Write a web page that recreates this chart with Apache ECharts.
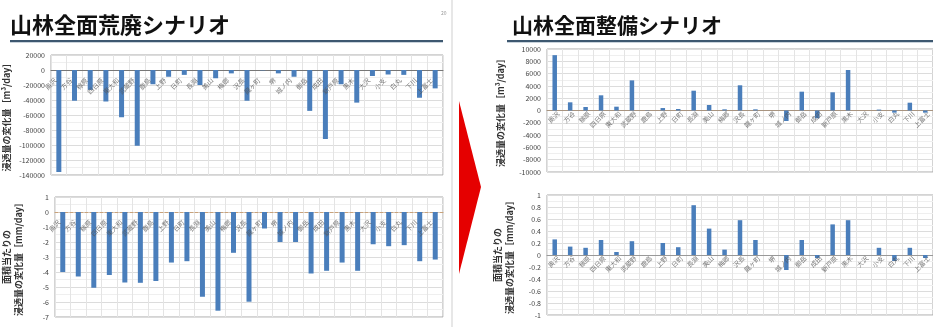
<!DOCTYPE html>
<html>
<head>
<meta charset="utf-8">
<script src="https://cdn.jsdelivr.net/npm/echarts@6/dist/echarts.min.js"></script>
<style>
  html, body { margin: 0; padding: 0; background: #fff; }
  #chart { width: 933px; height: 327px; }
</style>
</head>
<body>
<div id="chart"></div>
<script>
// Municipalities (25 areas)
const areaNames = ["奥沢", "方谷", "稼原", "四日原", "東大和", "武蔵野", "鹿島", "上野", "日町", "長淵",
  "美山", "梅郷", "沢長", "龍ヶ町", "堺", "城ノ内", "御岳", "成田", "新戸原", "黒木",
  "大沢", "小支", "白丸", "下川", "上富士"];

// Scenario: all forests abandoned
const ruinVolume = [-136000, -41000, -26500, -42000, -63000, -101000, -19000, -9000, -6500, -20000,
  -11000, -4500, -41000, -500, -4500, -9000, -54500, -92000, -19000, -43500,
  -8000, -6000, -6500, -37000, -24500];            // m3/day
const ruinDepth = [-4.0, -4.3, -5.05, -4.2, -4.7, -4.72, -4.6, -3.37, -3.28, -5.65,
  -6.58, -2.72, -5.98, -1.1, -2.0, -2.0, -4.1, -3.92, -3.37, -3.92,
  -2.15, -2.28, -2.21, -3.28, -3.17];              // mm/day

// Scenario: all forests maintained
const forestVolume = [9000, 1330, 570, 2470, 620, 4900, 50, 400, 240, 3220,
  890, 190, 4100, 190, 0, -1710, 3060, -1270, 2960, 6590,
  0, 150, -350, 1270, -350];                         // m3/day
const forestDepth = [0.26, 0.14, 0.12, 0.25, 0.05, 0.23, 0, 0.2, 0.13, 0.83,
  0.44, 0.09, 0.58, 0.25, 0, -0.25, 0.25, -0.05, 0.51, 0.58,
  0, 0.12, -0.1, 0.12, -0.05];                       // mm/day

const titleLeft = "山林全面荒廃シナリオ";
const titleRight = "山林全面整備シナリオ";
const volumeName = "浸透量の変化量［m³/day］";
const depthName = "面積当たりの\n浸透量の変化量［mm/day］";

const FONT = '"Noto Sans CJK JP", "Noto Sans", sans-serif';
const BAR = '#4a7ebb';

const chart = echarts.init(document.getElementById('chart'), null, { renderer: 'canvas' });

function grid(left, top, width, height) {
  return { left, top, width, height, show: true, borderColor: '#a9a9a9', borderWidth: 1,
           backgroundColor: '#fff', containLabel: false };
}

function xAxis(idx, zeroColor, dashed) {
  return {
    type: 'category', gridIndex: idx, data: areaNames,
    axisLine: { onZero: true, lineStyle: { color: zeroColor, width: 1, type: dashed ? [3, 2] : 'solid' } },
    axisTick: { show: false },
    axisLabel: { show: false },
    splitLine: { show: true, interval: 0, lineStyle: { color: '#e4e4e4', width: 1 } }
  };
}

function yAxis(idx, min, max, interval, name, gap) {
  return {
    type: 'value', gridIndex: idx, min, max, interval,
    name, nameLocation: 'middle', nameRotate: 90, nameGap: gap,
    nameTextStyle: { fontSize: 9, fontWeight: 'bold', color: '#333', fontFamily: FONT, lineHeight: 12 },
    axisLine: { show: false }, axisTick: { show: false },
    axisLabel: { fontSize: 7, color: '#444', fontFamily: FONT, margin: 6,
                 formatter: v => String(Math.round(v * 10) / 10) },
    splitLine: { show: true, lineStyle: { color: '#dcdcdc', width: 1 } },
    minorTick: { show: false, splitNumber: 2 },
    minorSplitLine: { show: true, lineStyle: { color: '#efefef', width: 1 } }
  };
}

function bars(idx, data, width) {
  return {
    type: 'bar', xAxisIndex: idx, yAxisIndex: idx, data, barWidth: width,
    itemStyle: { color: BAR }, silent: true, animation: false, z: 2
  };
}

// Area names sit on the zero line of each chart, slanted.
function nameTags(idx, offset) {
  return {
    type: 'scatter', xAxisIndex: idx, yAxisIndex: idx, symbolSize: 0, silent: true, z: 3,
    data: areaNames.map(n => ({ name: n, value: [n, 0] })),
    label: {
      show: true, position: 'inside', formatter: p => p.name,
      rotate: 45, align: 'right', verticalAlign: 'middle', offset,
      fontSize: 6.5, color: '#555', fontFamily: FONT
    }
  };
}

chart.setOption({
  animation: false,
  backgroundColor: '#fff',
  grid: [
    grid(48, 55, 395, 120),
    grid(48, 197, 395, 120),
    grid(547, 49, 390, 123),
    grid(547, 195, 390, 120)
  ],
  xAxis: [
    xAxis(0, '#777', false),
    xAxis(1, '#c9a27a', true),
    xAxis(2, '#a89480', false),
    xAxis(3, '#999', false)
  ],
  yAxis: [
    yAxis(0, -140000, 20000, 20000, volumeName, 38),
    yAxis(1, -7, 1, 1, depthName, 30),
    yAxis(2, -10000, 10000, 2000, volumeName, 40),
    yAxis(3, -1, 1, 0.2, depthName, 31)
  ],
  series: [
    bars(0, ruinVolume, 5),
    bars(1, ruinDepth, 5),
    bars(2, forestVolume, 4.5),
    bars(3, forestDepth, 4.5),
    nameTags(0, [-9, 4]),
    nameTags(1, [-9, 4]),
    nameTags(2, [1, 4]),
    nameTags(3, [1, 4])
  ],
  graphic: [
    // slide frame on the left half
    { type: 'line', shape: { x1: 452, y1: 0, x2: 452, y2: 327 }, style: { stroke: '#cfcfcf', lineWidth: 1 }, z: 1 },
    // headings
    { type: 'text', x: 10, y: 25, style: { text: titleLeft, font: 'bold 22px ' + FONT, fill: '#111', verticalAlign: 'middle' }, z: 10 },
    { type: 'text', x: 512, y: 25, style: { text: titleRight, font: 'bold 21px ' + FONT, fill: '#111', verticalAlign: 'middle' }, z: 10 },
    { type: 'text', x: 441, y: 13, style: { text: '20', font: '5px ' + FONT, fill: '#999', verticalAlign: 'middle' }, z: 10 },
    // heading underlines
    { type: 'rect', shape: { x: 10, y: 40, width: 433, height: 2 }, style: { fill: '#3d5870' }, z: 10 },
    { type: 'rect', shape: { x: 10, y: 42, width: 433, height: 1 }, style: { fill: '#c9d3dc' }, z: 10 },
    { type: 'rect', shape: { x: 507, y: 40, width: 426, height: 2 }, style: { fill: '#3d5870' }, z: 10 },
    { type: 'rect', shape: { x: 507, y: 42, width: 426, height: 1 }, style: { fill: '#c9d3dc' }, z: 10 },
    // arrow between the two scenarios
    { type: 'polygon', shape: { points: [[459, 101], [481, 187], [459, 274]] }, style: { fill: '#e50000' }, z: 10 }
  ]
});
</script>
</body>
</html>
